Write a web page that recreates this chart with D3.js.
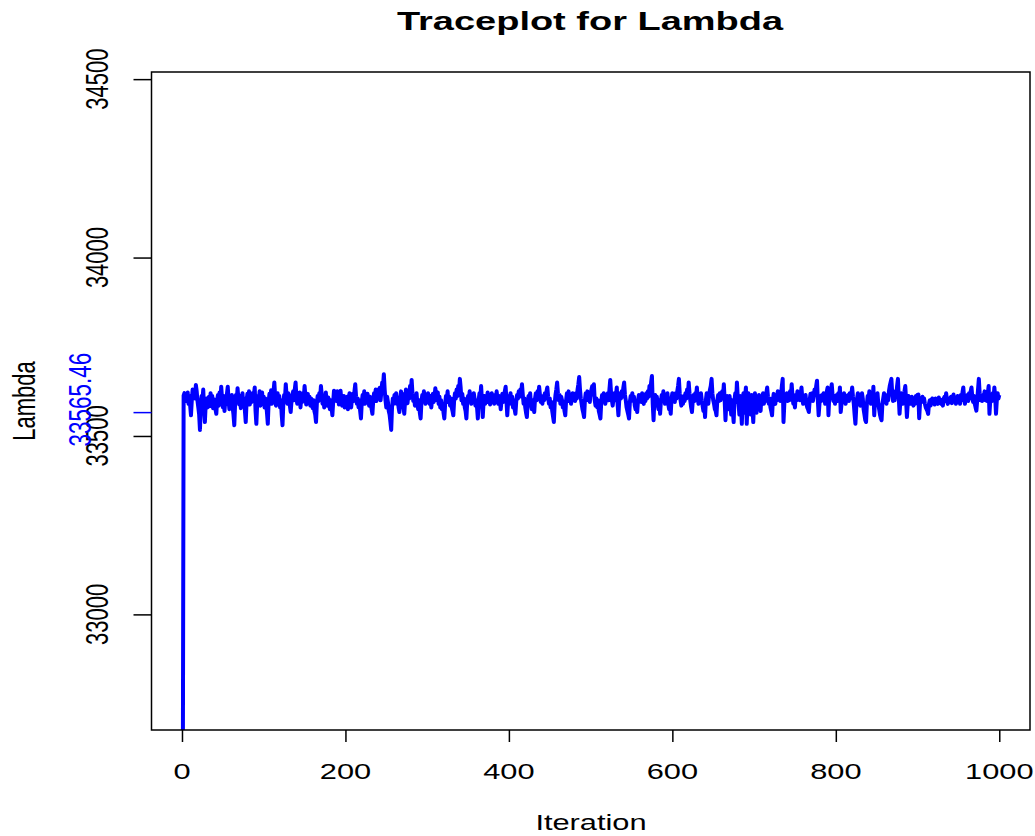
<!DOCTYPE html>
<html>
<head>
<meta charset="utf-8">
<script src="https://cdn.jsdelivr.net/npm/d3@7"></script>
<style>
body{margin:0;background:#fff}
text{font-family:"Liberation Sans",Arial,sans-serif}
</style>
</head>
<body>
<div id="viz"></div>
<script>
// draws of lambda, one per iteration
var lambdaDraws = [
32500,33613,33620,33598,33615,33607,33622,33590,33612,33585,33558,33600,33630,33612,33628,33605,33643,33625,33598,33580,
33560,33517,33590,33612,33598,33630,33575,33539,33588,33605,33580,33598,33610,33583,33620,33595,33612,33578,33603,33590,
33575,33562,33600,33615,33585,33622,33598,33638,33605,33580,33612,33570,33600,33590,33618,33638,33600,33575,33610,33592,
33615,33580,33560,33530,33590,33615,33598,33634,33605,33588,33612,33578,33600,33620,33585,33605,33570,33539,33595,33618,
33600,33625,33588,33610,33595,33620,33602,33615,33636,33570,33534,33590,33612,33600,33625,33585,33608,33622,33595,33610,
33580,33605,33590,33565,33534,33595,33618,33600,33628,33590,33612,33625,33650,33610,33585,33602,33620,33595,33612,33580,
33600,33560,33530,33590,33615,33605,33645,33612,33590,33620,33600,33585,33567,33598,33615,33625,33600,33630,33650,33608,
33590,33615,33598,33622,33580,33610,33595,33620,33605,33640,33612,33588,33600,33618,33592,33610,33585,33605,33595,33578,
33600,33570,33560,33539,33590,33612,33598,33620,33605,33640,33615,33590,33610,33580,33600,33622,33595,33585,33608,33590,
33575,33600,33580,33558,33595,33627,33605,33620,33598,33625,33610,33588,33612,33627,33600,33585,33598,33612,33580,33600,
33590,33610,33575,33600,33620,33595,33580,33605,33618,33598,33625,33645,33610,33590,33605,33580,33600,33570,33549,33595,
33615,33600,33625,33590,33610,33595,33618,33600,33585,33610,33592,33575,33562,33600,33620,33605,33630,33598,33615,33630,
33610,33635,33600,33625,33650,33640,33673,33630,33600,33580,33610,33595,33570,33560,33540,33517,33580,33605,33590,33615,
33600,33620,33590,33608,33580,33567,33605,33625,33600,33618,33580,33562,33600,33630,33610,33592,33620,33605,33640,33625,
33657,33620,33598,33610,33585,33600,33620,33590,33575,33600,33565,33549,33595,33615,33600,33625,33605,33590,33615,33598,
33620,33605,33590,33612,33580,33600,33618,33595,33610,33634,33615,33600,33622,33590,33610,33580,33600,33575,33590,33565,
33549,33590,33612,33600,33625,33595,33610,33585,33605,33580,33570,33558,33600,33620,33605,33630,33612,33640,33625,33660,
33635,33600,33618,33590,33605,33580,33570,33549,33595,33612,33600,33625,33605,33590,33615,33598,33620,33605,33585,33600,
33580,33549,33600,33620,33605,33640,33600,33553,33595,33612,33590,33610,33600,33622,33595,33612,33588,33605,33620,33598,
33610,33590,33615,33600,33625,33605,33590,33612,33598,33575,33600,33618,33595,33610,33625,33638,33600,33558,33595,33612,
33600,33620,33590,33610,33580,33600,33575,33562,33598,33615,33605,33625,33610,33630,33620,33645,33615,33590,33605,33580,
33565,33553,33595,33612,33600,33620,33590,33575,33600,33580,33567,33605,33620,33600,33625,33610,33638,33615,33595,33610,
33590,33612,33600,33620,33605,33625,33636,33610,33590,33605,33580,33595,33570,33555,33539,33590,33615,33630,33650,33620,
33600,33615,33590,33610,33600,33580,33595,33570,33558,33600,33620,33605,33625,33598,33612,33590,33605,33620,33600,33615,
33598,33620,33605,33630,33645,33665,33630,33605,33590,33575,33565,33553,33600,33620,33605,33625,33600,33615,33595,33620,
33630,33640,33615,33645,33600,33585,33605,33580,33600,33570,33560,33549,33595,33615,33600,33620,33605,33590,33612,33600,
33620,33600,33630,33657,33620,33600,33585,33605,33620,33600,33615,33636,33590,33558,33600,33620,33605,33625,33610,33635,
33650,33615,33600,33580,33570,33560,33549,33595,33612,33600,33620,33598,33610,33585,33575,33580,33567,33600,33615,33598,
33610,33595,33620,33600,33590,33612,33598,33620,33605,33625,33610,33640,33620,33650,33668,33590,33544,33600,33615,33598,
33610,33590,33575,33600,33562,33598,33615,33600,33625,33605,33590,33612,33600,33620,33590,33575,33580,33562,33605,33620,
33600,33615,33595,33620,33605,33625,33640,33660,33620,33600,33585,33605,33590,33612,33598,33620,33605,33630,33615,33650,
33620,33598,33580,33567,33600,33615,33598,33620,33610,33636,33605,33590,33612,33598,33620,33600,33585,33570,33590,33553,
33600,33620,33605,33590,33615,33630,33640,33660,33620,33600,33590,33575,33570,33558,33600,33615,33598,33620,33600,33615,
33625,33610,33645,33600,33544,33590,33612,33598,33575,33612,33590,33560,33600,33570,33539,33600,33620,33595,33650,33610,
33590,33560,33612,33580,33534,33600,33620,33565,33610,33636,33534,33590,33620,33575,33605,33560,33615,33580,33539,33600,
33620,33590,33565,33610,33585,33615,33598,33570,33612,33600,33620,33590,33610,33598,33620,33636,33610,33590,33605,33580,
33570,33558,33600,33618,33600,33590,33615,33600,33625,33605,33620,33598,33615,33640,33660,33539,33590,33612,33600,33620,
33598,33615,33600,33625,33610,33645,33612,33590,33600,33580,33615,33600,33625,33605,33620,33600,33615,33636,33605,33590,
33612,33598,33615,33590,33580,33575,33567,33600,33618,33605,33620,33598,33612,33630,33615,33640,33655,33600,33558,33590,
33612,33598,33615,33600,33620,33605,33590,33612,33625,33636,33558,33610,33630,33620,33645,33615,33598,33612,33590,33605,
33615,33598,33620,33600,33636,33567,33590,33612,33598,33620,33605,33590,33612,33600,33615,33598,33620,33605,33615,33636,
33610,33590,33560,33534,33580,33605,33620,33598,33612,33585,33600,33620,33605,33575,33560,33545,33539,33590,33612,33600,
33625,33605,33590,33615,33600,33638,33558,33600,33615,33598,33620,33590,33575,33560,33550,33544,33590,33605,33620,33598,
33610,33590,33615,33600,33625,33640,33650,33660,33620,33598,33612,33600,33625,33615,33640,33660,33610,33562,33600,33620,
33605,33590,33615,33625,33640,33600,33553,33590,33612,33598,33605,33590,33610,33600,33585,33605,33590,33612,33598,33615,
33616,33550,33590,33605,33598,33610,33595,33605,33590,33580,33575,33570,33562,33590,33600,33585,33598,33605,33592,33600,
33588,33605,33595,33600,33590,33608,33596,33602,33590,33600,33585,33605,33610,33598,33620,33600,33590,33605,33595,33600,
33610,33592,33605,33616,33598,33606,33590,33600,33612,33595,33605,33590,33615,33600,33622,33636,33605,33590,33612,33600,
33615,33598,33620,33605,33625,33636,33610,33595,33612,33590,33580,33571,33600,33630,33660,33620,33600,33615,33598,33612,
33605,33625,33600,33615,33598,33620,33640,33562,33600,33615,33598,33620,33605,33636,33610,33562,33600,33620,33605,33615
];
var xTicks = [0, 200, 400, 600, 800, 1000];
var yTicks = [33000, 33500, 34000, 34500];
var refValue = 33565.46;
var refLabel = "33565.46";

var W = 1035, H = 836;
var plotLeft = 151.5, plotRight = 1030, plotTop = 72, plotBottom = 730;
var sx = 1.4; // the picture is stretched sideways, so the glyphs are too

var svg = d3.select("#viz")
    .append("svg")
    .attr("width", W)
    .attr("height", H);

var x = d3.scaleLinear().domain([-37.3, 1037.6]).range([plotLeft, plotRight]);
var y = d3.scaleLinear().domain([32676, 34520]).range([plotBottom, plotTop]);

svg.append("clipPath").attr("id", "plotclip")
    .append("rect")
    .attr("x", plotLeft).attr("y", plotTop)
    .attr("width", plotRight - plotLeft).attr("height", plotBottom - plotTop);

// trace
var line = d3.line()
    .x(function(d, i){ return x(i + 1); })
    .y(function(d){ return y(d); });

svg.append("path")
    .datum(lambdaDraws)
    .attr("clip-path", "url(#plotclip)")
    .attr("d", line)
    .attr("fill", "none")
    .attr("stroke", "#0000ff")
    .attr("stroke-width", 4)
    .attr("stroke-linejoin", "round");

// box
svg.append("rect")
    .attr("x", plotLeft).attr("y", plotTop)
    .attr("width", plotRight - plotLeft).attr("height", plotBottom - plotTop)
    .attr("fill", "none")
    .attr("stroke", "black")
    .attr("stroke-width", 1.5);

// axes (ticks only, labels drawn by hand below)
var xAxis = svg.append("g")
    .attr("transform", "translate(0," + plotBottom + ")")
    .call(d3.axisBottom(x).tickValues(xTicks).tickSize(12).tickFormat(""));
var yAxis = svg.append("g")
    .attr("transform", "translate(" + plotLeft + ",0)")
    .call(d3.axisLeft(y).tickValues(yTicks).tickSize(18).tickFormat(""));
[xAxis, yAxis].forEach(function(g){
    g.select(".domain").remove();
    g.selectAll("line").attr("stroke", "black").attr("stroke-width", 1.5);
});

function label(px, py, str, size, rot, color){
    return svg.append("text")
        .attr("transform", "translate(" + px + "," + py + ") scale(" + sx + ",1)" + (rot ? " rotate(-90)" : ""))
        .attr("text-anchor", "middle")
        .attr("dominant-baseline", "central")
        .attr("font-size", size)
        .attr("fill", color || "black")
        .text(str);
}

xTicks.forEach(function(t){ label(x(t), 771.5, t, 22); });
yTicks.forEach(function(t){ label(97.5, y(t), t, 22, true); });

// reference value
svg.append("line")
    .attr("x1", plotLeft - 18).attr("x2", plotLeft)
    .attr("y1", y(refValue)).attr("y2", y(refValue))
    .attr("stroke", "#0000ff")
    .attr("stroke-width", 1.5);
label(80, y(refValue) - 13, refLabel, 22.5, true, "#0000ff");

// titles
svg.append("text")
    .attr("x", 590).attr("y", 30)
    .attr("text-anchor", "middle")
    .attr("font-size", 25)
    .attr("font-weight", "bold")
    .attr("textLength", 386)
    .attr("lengthAdjust", "spacingAndGlyphs")
    .text("Traceplot for Lambda");
label(591, 823, "Iteration", 22);
label(25, 401, "Lambda", 22, true);
</script>
</body>
</html>
